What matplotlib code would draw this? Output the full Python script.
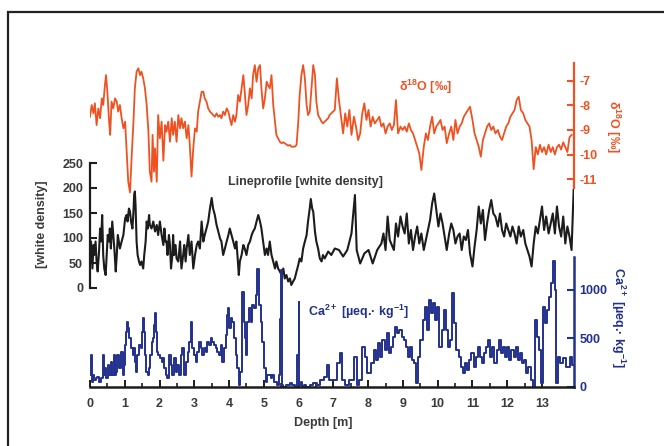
import matplotlib
matplotlib.use("Agg")
import matplotlib.pyplot as plt
from matplotlib.patches import Rectangle

plt.rcParams['font.family'] = ['Liberation Sans', 'DejaVu Sans']
plt.rcParams['font.weight'] = 'bold'
plt.rcParams['mathtext.fontset'] = 'custom'
plt.rcParams['mathtext.rm'] = 'Liberation Sans:bold'
plt.rcParams['mathtext.default'] = 'rm'
plt.rcParams['axes.unicode_minus'] = False

RED = '#ef5222'
BLUE = '#22318c'
BLK = '#1c1c1c'
TXT = '#3a3a3a'

# d18O record (depth m, permil)
d18o_depth = [0.00, 0.05, 0.10, 0.14, 0.19, 0.24, 0.29, 0.34, 0.38, 0.43, 0.46, 0.50, 0.55, 0.58,
              0.62, 0.67, 0.72, 0.77, 0.81, 0.86, 0.91, 0.96, 1.01, 1.05, 1.10, 1.15, 1.20, 1.25,
              1.29, 1.34, 1.39, 1.44, 1.48, 1.53, 1.58, 1.63, 1.68, 1.72, 1.77, 1.80, 1.84, 1.87,
              1.92, 1.96, 2.01, 2.06, 2.11, 2.16, 2.20, 2.25, 2.30, 2.35, 2.39, 2.44, 2.49, 2.54,
              2.59, 2.63, 2.68, 2.73, 2.78, 2.83, 2.87, 2.92, 2.97, 3.02, 3.07, 3.11, 3.16, 3.21,
              3.26, 3.30, 3.35, 3.40, 3.45, 3.50, 3.54, 3.59, 3.64, 3.69, 3.74, 3.78, 3.83, 3.88,
              3.93, 3.98, 4.02, 4.07, 4.12, 4.17, 4.21, 4.26, 4.31, 4.36, 4.41, 4.45, 4.50, 4.55,
              4.60, 4.65, 4.69, 4.74, 4.79, 4.84, 4.89, 4.93, 4.98, 5.03, 5.08, 5.12, 5.17, 5.22,
              5.27, 5.32, 5.36, 5.41, 5.46, 5.51, 5.56, 5.60, 5.65, 5.70, 5.75, 5.79, 5.84, 5.89,
              5.94, 5.99, 6.03, 6.08, 6.13, 6.18, 6.23, 6.27, 6.32, 6.37, 6.42, 6.47, 6.51, 6.56,
              6.61, 6.66, 6.70, 6.75, 6.80, 6.85, 6.89,
              7.04, 7.10, 7.16, 7.22, 7.28, 7.34, 7.40, 7.46, 7.52, 7.59, 7.65, 7.71, 7.77, 7.83,
              7.89, 7.95, 8.01, 8.07, 8.13, 8.19, 8.26, 8.32, 8.38, 8.44, 8.50, 8.56, 8.62, 8.68,
              8.74, 8.80, 8.86, 8.93, 8.99, 9.05, 9.11, 9.17, 9.23, 9.29, 9.35, 9.41, 9.47, 9.53,
              9.60, 9.66, 9.72, 9.78, 9.84, 9.90, 9.96, 10.02, 10.08, 10.14, 10.20, 10.26, 10.33,
              10.39, 10.45, 10.51, 10.57, 10.63, 10.69, 10.75, 10.81, 10.87, 10.93, 11.00, 11.06,
              11.12, 11.18, 11.24, 11.30, 11.36, 11.42, 11.48, 11.54, 11.60, 11.66, 11.73, 11.79,
              11.85, 11.91, 11.97, 12.03, 12.09, 12.15, 12.21, 12.27, 12.33, 12.39, 12.46, 12.52,
              12.58, 12.64, 12.70, 12.76, 12.82, 12.88, 12.94, 13.00, 13.06, 13.12, 13.19, 13.25,
              13.31, 13.37, 13.43, 13.49, 13.55, 13.61, 13.67, 13.73, 13.79, 13.85]
d18o_value = [-8.46, -7.98, -8.32, -7.91, -8.80, -8.12, -8.52, -7.71, -7.98, -7.16, -6.76, -7.44, -8.66, -9.20,
              -7.84, -8.12, -7.71, -7.84, -8.25, -7.98, -8.52, -8.93, -8.66, -9.75, -11.11, -11.55, -10.02, -8.66,
              -7.30, -6.62, -6.48, -6.76, -6.62, -6.89, -7.30, -7.98, -9.07, -10.70, -11.11, -9.20, -10.70, -9.75,
              -11.11, -8.39, -9.34, -8.66, -10.25, -8.80, -9.07, -8.66, -9.48, -8.52, -9.20, -8.66, -9.48, -8.39,
              -8.93, -8.52, -8.93, -8.66, -9.34, -8.80, -9.61, -10.90, -9.75, -8.93, -9.07, -8.25, -7.84, -7.44,
              -7.44, -7.71, -7.84, -8.12, -8.25, -8.32, -8.39, -8.46, -8.32, -8.46, -8.39, -8.52, -8.25, -8.39,
              -8.12, -8.25, -8.52, -8.80, -8.39, -8.66, -8.39, -7.57, -7.84, -7.30, -6.76, -7.44, -8.39, -7.98,
              -7.30, -7.71, -6.76, -6.35, -7.03, -6.48, -6.35, -7.30, -8.12, -7.71, -7.03, -7.16, -7.30, -6.76,
              -7.98, -8.66, -9.20, -9.34, -9.48, -9.54, -9.50, -9.54, -9.59, -9.64, -9.61, -9.68, -9.68, -9.68,
              -9.61, -8.66, -7.57, -6.76, -6.35, -6.89, -7.98, -8.39, -8.25, -7.30, -6.35, -6.76, -7.84, -8.39,
              -8.52, -8.66, -8.73, -8.66, -8.59, -8.52, -8.39,
              -8.18, -6.89, -7.78, -8.46, -9.14, -8.32, -8.86, -8.18, -9.20, -8.46, -8.86, -9.41, -9.14, -8.32,
              -7.91, -8.59, -8.18, -8.86, -8.46, -8.73, -8.59, -8.46, -8.86, -8.73, -9.14, -8.86, -8.73, -9.00,
              -8.80, -7.78, -9.14, -8.86, -9.00, -8.86, -9.07, -8.73, -9.00, -9.14, -9.41, -9.68, -9.95, -10.63,
              -9.68, -9.14, -9.41, -8.86, -8.46, -9.14, -8.86, -8.73, -8.59, -9.00, -8.86, -9.54, -9.14,
              -8.86, -9.41, -8.59, -9.14, -8.86, -8.73, -8.46, -8.32, -8.18, -8.05, -8.59, -9.14,
              -9.41, -9.68, -10.09, -9.41, -9.14, -8.86, -8.73, -9.00, -8.86, -9.14, -9.00, -9.27,
              -9.41, -9.14, -8.86, -8.73, -8.46, -8.32, -8.18, -7.78, -7.64, -8.18, -8.32, -8.59,
              -8.73, -8.86, -9.41, -10.60, -9.70, -10.00, -9.60, -9.90, -9.70, -10.00, -9.60, -9.90,
              -9.70, -10.00, -9.70, -9.60, -9.80, -9.50, -9.70, -9.90, -9.30, -9.20]

# line profile (white density)
lp_depth = [0.00, 0.03, 0.07, 0.10, 0.12, 0.16, 0.19, 0.22, 0.26, 0.29, 0.32, 0.35, 0.38, 0.41, 0.45,
            0.48, 0.51, 0.55, 0.57, 0.60, 0.64, 0.67, 0.70, 0.74, 0.77, 0.80, 0.83, 0.86, 0.91, 0.96,
            1.01, 1.05, 1.08, 1.12, 1.15, 1.18, 1.22, 1.25, 1.27, 1.29, 1.31, 1.34, 1.37, 1.41, 1.44,
            1.48, 1.53, 1.56, 1.60, 1.63, 1.66, 1.70, 1.72, 1.77, 1.82, 1.87, 1.92, 1.96, 2.01, 2.06,
            2.11, 2.14, 2.17, 2.20, 2.23, 2.27, 2.30, 2.33, 2.37, 2.39, 2.42, 2.46, 2.49, 2.54, 2.59,
            2.63, 2.68, 2.71, 2.75, 2.78, 2.83, 2.87, 2.92, 2.97, 3.02, 3.07, 3.11, 3.16, 3.21, 3.26,
            3.30, 3.35, 3.40, 3.45, 3.50, 3.54, 3.59, 3.64, 3.69, 3.74, 3.78, 3.83, 3.88, 3.93, 3.98,
            4.02, 4.07, 4.12, 4.17, 4.21, 4.24, 4.28, 4.31, 4.36, 4.41, 4.45, 4.50, 4.55, 4.60, 4.65,
            4.69, 4.74, 4.79, 4.84, 4.89, 4.93, 4.98, 5.03, 5.08, 5.12, 5.17, 5.22, 5.27, 5.32, 5.36,
            5.41, 5.46, 5.51, 5.56, 5.60, 5.65, 5.70, 5.75, 5.79, 5.84, 5.89, 5.94, 5.99, 6.03, 6.08,
            6.13, 6.18, 6.23, 6.27, 6.32, 6.35, 6.39, 6.42, 6.47, 6.51, 6.56, 6.61, 6.66, 6.70, 6.75,
            6.80, 6.85, 6.94, 7.04,
            7.16, 7.28, 7.40, 7.52, 7.62, 7.67, 7.77, 7.89, 8.01, 8.13, 8.26, 8.38, 8.44, 8.50, 8.56,
            8.62, 8.74, 8.80, 8.86, 8.93, 8.99, 9.05, 9.11, 9.17, 9.23, 9.29, 9.35, 9.41, 9.47, 9.53,
            9.60, 9.66, 9.72, 9.78, 9.84, 9.90, 9.96, 10.02, 10.08, 10.14, 10.20, 10.26, 10.33, 10.39,
            10.45, 10.51, 10.57, 10.63, 10.69, 10.75, 10.81, 10.87, 10.93, 11.00, 11.06, 11.12, 11.18,
            11.24, 11.30, 11.36, 11.42, 11.48, 11.54, 11.60, 11.66, 11.73, 11.79, 11.85, 11.91, 11.97,
            12.03, 12.09, 12.15, 12.21, 12.27, 12.33, 12.39, 12.46, 12.52, 12.58, 12.64, 12.70, 12.76,
            12.82, 12.88, 12.94, 13.00, 13.06, 13.12, 13.19, 13.25, 13.31, 13.37, 13.43, 13.49, 13.55,
            13.61, 13.67, 13.73, 13.79, 13.85, 13.91]
lp_value = [79, 93, 39, 86, 66, 93, 53, 33, 73, 119, 93, 146, 66, 39, 26,
            66, 106, 93, 119, 79, 133, 106, 79, 33, 66, 106, 93, 79, 93, 106,
            139, 146, 133, 159, 153, 133, 119, 153, 186, 193, 166, 93, 66, 53, 46,
            53, 39, 66, 93, 133, 119, 146, 126, 119, 133, 113, 126, 106, 133, 106,
            86, 119, 93, 93, 66, 106, 86, 39, 66, 106, 66, 86, 59, 53, 93,
            39, 66, 86, 53, 79, 106, 66, 93, 39, 66, 86, 93, 79, 133, 93,
            106, 119, 133, 159, 180, 159, 146, 126, 113, 99, 93, 66, 79, 93, 106,
            119, 106, 93, 79, 93, 66, 26, 53, 66, 86, 79, 66, 86, 93, 106,
            113, 119, 133, 146, 133, 119, 93, 66, 79, 66, 93, 66, 53, 39, 53,
            39, 33, 26, 39, 19, 26, 13, 19, 6, 13, 19, 33, 46, 59, 53,
            79, 93, 106, 133, 159, 178, 159, 153, 113, 93, 79, 59, 53, 66, 59,
            66, 73, 66, 79,
            76, 63, 76, 109, 186, 76, 49, 69, 76, 49, 76, 89, 109, 76, 143,
            96, 76, 129, 103, 143, 123, 109, 149, 89, 116, 76, 103, 123, 89, 109,
            76, 96, 116, 136, 169, 189, 156, 123, 149, 129, 103, 76, 109, 129,
            116, 89, 103, 109, 76, 103, 96, 116, 69, 43, 83, 116, 163,
            129, 156, 96, 129, 156, 176, 149, 143, 123, 149, 116, 103, 129,
            116, 103, 123, 109, 89, 123, 103, 116, 89, 76, 63, 43, 89,
            123, 109, 136, 163, 116, 143, 109, 129, 149, 109, 163, 123, 103,
            143, 89, 123, 103, 76, 196]

# Ca2+ record
ca_depth = [0.00, 0.03, 0.07, 0.10, 0.14, 0.19, 0.24, 0.29, 0.34, 0.38, 0.41, 0.45, 0.48, 0.53, 0.57,
            0.62, 0.67, 0.70, 0.74, 0.77, 0.81, 0.86, 0.91, 0.96, 0.99, 1.01, 1.05, 1.08, 1.12, 1.15,
            1.20, 1.25, 1.27, 1.31, 1.34, 1.39, 1.44, 1.48, 1.50, 1.53, 1.56, 1.60, 1.63, 1.68, 1.72,
            1.75, 1.79, 1.82, 1.85, 1.87, 1.90, 1.94, 1.98, 2.04, 2.08, 2.11, 2.16, 2.20, 2.25, 2.30,
            2.35, 2.39, 2.44, 2.49, 2.54, 2.59, 2.63, 2.68, 2.73, 2.78, 2.83, 2.87, 2.92, 2.97, 3.02,
            3.07, 3.11, 3.16, 3.21, 3.26, 3.30, 3.35, 3.40, 3.45, 3.50, 3.54, 3.59, 3.64, 3.69, 3.74,
            3.78, 3.83, 3.88, 3.93, 3.96, 4.00, 4.02, 4.07, 4.12, 4.17, 4.21, 4.26, 4.31, 4.34, 4.38,
            4.41, 4.44, 4.48, 4.50, 4.55, 4.60, 4.65, 4.69, 4.74, 4.79, 4.83, 4.89, 4.93, 4.98, 5.03,
            5.08, 5.12, 5.17, 5.22, 5.27, 5.32, 5.36, 5.41, 5.44, 5.47, 5.50, 5.53, 5.60, 5.70, 5.79,
            5.84, 5.94, 5.99, 6.01, 6.04, 6.08, 6.13, 6.18, 6.27, 6.37, 6.47, 6.56, 6.67, 6.79, 6.85,
            6.92, 7.04, 7.16, 7.22, 7.28, 7.40, 7.52, 7.65, 7.71, 7.77, 7.89, 7.95, 8.01, 8.13, 8.19,
            8.26, 8.32, 8.38, 8.44, 8.50, 8.56, 8.62, 8.68, 8.74, 8.80, 8.86, 8.93, 8.99, 9.05, 9.11,
            9.17, 9.23, 9.29, 9.35, 9.41, 9.47, 9.53, 9.60, 9.66, 9.72, 9.78, 9.84, 9.90, 9.96, 10.02,
            10.08, 10.14, 10.20, 10.26, 10.33, 10.39, 10.45, 10.51, 10.57, 10.63, 10.69, 10.75, 10.81,
            10.87, 10.93, 11.00, 11.06, 11.12, 11.18, 11.24, 11.30, 11.36, 11.42, 11.48, 11.54, 11.60,
            11.66, 11.73, 11.79, 11.85, 11.91, 11.97, 12.03, 12.09, 12.15, 12.21, 12.27, 12.33, 12.39,
            12.46, 12.52, 12.58, 12.64, 12.70, 12.79, 12.82, 12.88, 12.95, 13.02, 13.05, 13.10, 13.17,
            13.24, 13.30, 13.34, 13.38, 13.43, 13.49, 13.55, 13.65, 13.75, 13.84, 13.89]
ca_value = [124, 330, 55, 124, 72, 89, 107, 55, 89, 330, 124, 193, 89, 227, 124,
            261, 124, 330, 124, 158, 330, 193, 365, 124, 227, 433, 571, 674, 605, 502,
            399, 330, 399, 261, 158, 330, 433, 399, 571, 709, 571, 330, 158, 124, 193,
            330, 468, 502, 640, 760, 571, 365, 330, 296, 261, 296, 193, 124, 89, 330,
            227, 124, 296, 158, 227, 124, 330, 399, 124, 261, 365, 468, 674, 399, 330,
            261, 365, 468, 399, 330, 399, 365, 468, 433, 502, 468, 433, 399, 365, 330,
            433, 261, 399, 537, 743, 812, 605, 709, 674, 502, 330, 193, 21, 158, 980,
            984, 674, 502, 330, 674, 812, 674, 846, 812, 949, 1220, 846, 674, 468, 193,
            55, 124, 124, 89, 124, 55, 55, 21, 124, 700, 1210, 21, 3, 21, 38,
            21, 3, 330, 880, 21, 55, 3, 21, 3, 21, 38, 21, 72, 107, 227,
            72, 72, 244, 347, 72, 21, 72, 313, 21, 72, 416, 313, 141, 244, 382,
            279, 451, 313, 485, 382, 554, 347, 416, 519, 623, 554, 588, 519, 485, 416,
            313, 416, 279, 244, 38, 313, 485, 691, 829, 588, 898, 760, 863, 691, 829,
            416, 588, 795, 588, 416, 485, 967, 657, 382, 313, 210, 141, 244,
            175, 279, 347, 210, 313, 416, 313, 244, 347, 416, 485, 313, 416,
            244, 382, 485, 347, 416, 313, 416, 279, 382, 313, 416, 279, 347,
            244, 279, 141, 210, 72, 0, 690, 515, 381, 41, 825, 660, 794,
            928, 1072, 1300, 1000, 41, 309, 247, 299, 206, 309, 227]

depth_ticks = list(range(14))

fig = plt.figure(figsize=(6.64, 4.46), dpi=100)
W, H = 664.0, 446.0

# outer frame of the figure panel
fig.patches.append(Rectangle((8 / W, -1), 3, 1 + (1 - 12 / H), transform=fig.transFigure,
                             fill=False, edgecolor='#222222', linewidth=1.6, zorder=0))

left = 90 / W
width = 484 / W
x_max = 13.92


def px_axes(top, bottom):
    return fig.add_axes([left, 1 - bottom / H, width, (bottom - top) / H])


def clean(ax):
    ax.patch.set_visible(False)
    for s in ax.spines.values():
        s.set_visible(False)
    ax.set_xlim(0, x_max)
    ax.set_xticks([])


# line profile (middle, left axis)
ax_b = px_axes(140, 300)
clean(ax_b)
ax_b.plot(lp_depth, lp_value, color=BLK, lw=1.5)
ax_b.set_ylim(-24, 296)
ax_b.spines['left'].set_visible(True)
ax_b.spines['left'].set_bounds(0, 250)
ax_b.spines['left'].set_linewidth(1.6)
ax_b.spines['left'].set_color(BLK)
ax_b.set_yticks([0, 50, 100, 150, 200, 250])
ax_b.tick_params(axis='y', direction='in', length=5, width=1.5, color=BLK,
                 labelsize=9, labelcolor=TXT, pad=5)

# d18O (top, right axis)
ax_r = px_axes(55, 200)
clean(ax_r)
ax_r.plot(d18o_depth, d18o_value, color=RED, lw=1.3)
ax_r.set_ylim(-11.857, -5.939)
ax_r.yaxis.tick_right()
ax_r.spines['right'].set_visible(True)
ax_r.spines['right'].set_bounds(-11.37, -6.27)
ax_r.spines['right'].set_linewidth(1.6)
ax_r.spines['right'].set_color(RED)
ax_r.set_yticks([-7, -8, -9, -10, -11])
ax_r.tick_params(axis='y', direction='in', length=5, width=1.5, color=RED,
                 labelsize=9, labelcolor=RED, pad=4)

# Ca2+ (bottom, right axis + depth axis)
ax_c = px_axes(250, 390)
clean(ax_c)
ax_c.plot(ca_depth, ca_value, color=BLUE, lw=1.4, drawstyle='steps-mid')
ax_c.set_ylim(-31, 1412)
ax_c.yaxis.tick_right()
ax_c.spines['right'].set_visible(True)
ax_c.spines['right'].set_bounds(0, 1340)
ax_c.spines['right'].set_linewidth(1.8)
ax_c.spines['right'].set_color(BLUE)
ax_c.set_yticks([0, 500, 1000])
ax_c.tick_params(axis='y', direction='in', length=5, width=1.5, color=BLUE,
                 labelsize=9, labelcolor=BLUE, pad=4)
ax_c.spines['bottom'].set_visible(True)
ax_c.spines['bottom'].set_position(('data', 0))
ax_c.spines['bottom'].set_linewidth(1.8)
ax_c.spines['bottom'].set_color(BLK)
ax_c.set_xticks(depth_ticks)
ax_c.set_xticks([t + 0.5 for t in depth_ticks[:-1]], minor=True)
ax_c.tick_params(axis='x', which='major', direction='in', length=5, width=1.4, color=BLK,
                 labelsize=9, labelcolor=TXT, pad=8)
ax_c.tick_params(axis='x', which='minor', direction='in', length=3, width=1.2, color=BLK)

# labels
fig.text(323 / W, 1 - 423 / H, 'Depth [m]', ha='center', va='center', fontsize=9, color=TXT)
fig.text(42 / W, 1 - 224 / H, '[white density]', ha='center', va='center', rotation=90,
         fontsize=9, color=TXT)
fig.text(306 / W, 1 - 182 / H, 'Lineprofile [white density]', ha='center', va='center',
         fontsize=9, color=TXT)
fig.text(426 / W, 1 - 87 / H, r'δ$^{18}$O [‰]', ha='center', va='center', fontsize=9, color=RED)
fig.text(613 / W, 1 - 127 / H, r'δ$^{18}$O [‰]', ha='center', va='center', rotation=270,
         fontsize=9, color=RED)
fig.text(359 / W, 1 - 312 / H, r'Ca$^{2+}$ [µeq.· kg$^{-1}$]', ha='center', va='center',
         fontsize=9, color=BLUE)
fig.text(618 / W, 1 - 318 / H, r'Ca$^{2+}$ [µeq.· kg$^{-1}$]', ha='center', va='center',
         rotation=270, fontsize=9, color=BLUE)

fig.savefig('out.png', dpi=100)
